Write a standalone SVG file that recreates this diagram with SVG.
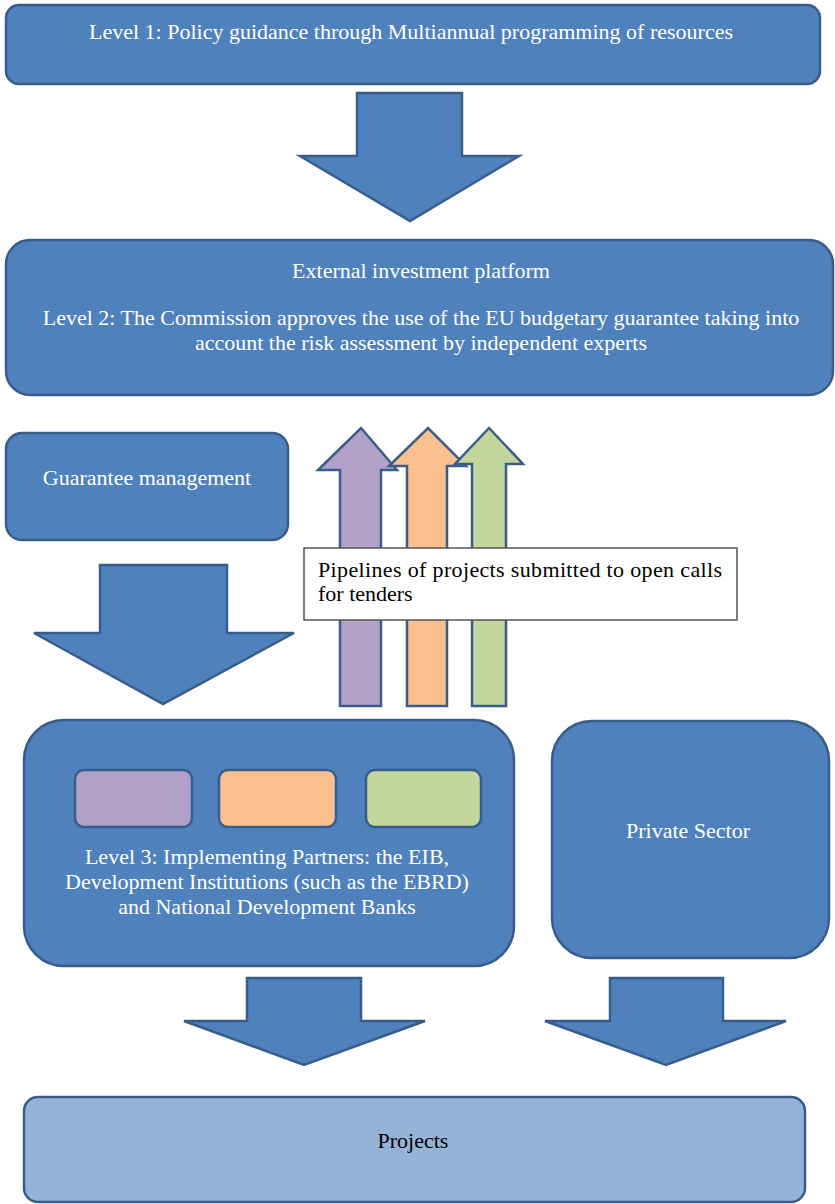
<svg xmlns="http://www.w3.org/2000/svg" width="835" height="1204" viewBox="0 0 835 1204">
<style>
.b{fill:#4F81BD;stroke:#385D8A;stroke-width:2.5}
.p{fill:#95B3D7;stroke:#385D8A;stroke-width:2.5}
.w{font-family:"Liberation Serif","Times New Roman",serif;font-size:22px;fill:#FFFFFF;text-anchor:middle}
.k{font-family:"Liberation Serif","Times New Roman",serif;font-size:22px;fill:#000000}
.pu{fill:#B2A1C7;stroke:#385D8A;stroke-width:2.5}
.or{fill:#FAC090;stroke:#385D8A;stroke-width:2.5}
.gr{fill:#C3D69B;stroke:#385D8A;stroke-width:2.5}
</style>
<rect width="835" height="1204" fill="#FFFFFF"/>
<g id="level1">
<rect class="b" x="6" y="5" width="814" height="79" rx="13"/>
<text class="w" x="411" y="39">Level 1: Policy guidance through Multiannual programming of resources</text>
</g>
<g id="level2">
<rect class="b" x="6" y="240" width="827" height="155" rx="24"/>
<text class="w" x="421" y="278">External investment platform</text>
<text class="w" x="421" y="325">Level 2: The Commission approves the use of the EU budgetary guarantee taking into</text>
<text class="w" x="421" y="350">account the risk assessment by independent experts</text>
</g>
<g id="guarantee">
<rect class="b" x="6" y="433" width="282" height="107" rx="16"/>
<text class="w" x="147" y="485">Guarantee management</text>
</g>
<g id="level3">
<rect class="b" x="24" y="720" width="490" height="246" rx="40"/>
<rect class="pu" x="75" y="770" width="117" height="57" rx="9"/>
<rect class="or" x="219" y="770" width="117" height="57" rx="9"/>
<rect class="gr" x="366" y="770" width="115" height="57" rx="9"/>
<text class="w" x="267" y="864">Level 3: Implementing Partners: the EIB,</text>
<text class="w" x="267" y="889">Development Institutions (such as the EBRD)</text>
<text class="w" x="267" y="914">and National Development Banks</text>
</g>
<g id="private">
<rect class="b" x="552" y="721" width="277" height="237" rx="40"/>
<text class="w" x="688" y="838">Private Sector</text>
</g>
<g id="projects">
<rect class="p" x="24" y="1097" width="781" height="105" rx="14"/>
<text class="k" x="413" y="1148" text-anchor="middle">Projects</text>
</g>
<g id="connectors">
<polygon class="b" points="357,93 462,93 462,156 519,156 410,221 300,156 357,156"/>
<polygon class="b" points="100,565 227,565 227,633 294,633 163,704 34,633 100,633"/>
<polygon class="pu" points="340,706 340,470 318,470 361,428 397,470 381,470 381,706"/>
<polygon class="or" points="407,706 407,466 389,466 428,428 466,466 447,466 447,706"/>
<polygon class="gr" points="472,706 472,464 455,464 489,428 523,464 506,464 506,706"/>
<polygon class="b" points="247,978 361,978 361,1021 425,1021 304,1065 184,1021 247,1021"/>
<polygon class="b" points="610,978 723,978 723,1021 786,1021 666,1065 545,1021 610,1021"/>
</g>
<g id="pipelines">
<rect x="304" y="548" width="433" height="72" fill="#FFFFFF" stroke="#555555" stroke-width="1.5"/>
<text class="k" x="318" y="577" textLength="404" lengthAdjust="spacing">Pipelines of projects submitted to open calls</text>
<text class="k" x="318" y="601">for tenders</text>
</g>
</svg>
